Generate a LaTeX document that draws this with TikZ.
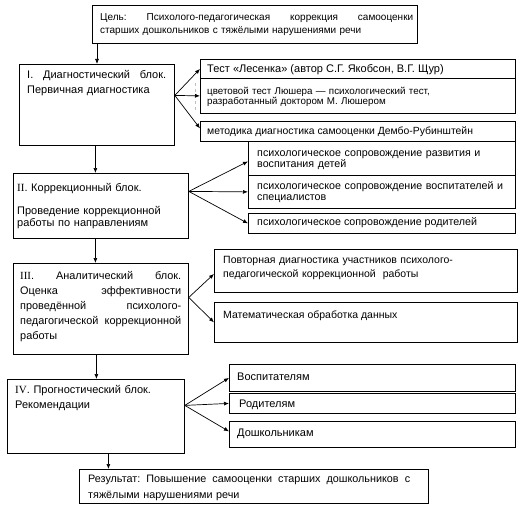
\documentclass[tikz,border=0pt]{standalone}
\usepackage{fontspec}
\setmainfont{Liberation Sans}
\newfontfamily\tnr{Liberation Serif}
\usetikzlibrary{arrows.meta}
\newcommand\jline[2]{\leavevmode\hbox to #1{#2}}
\begin{document}
\begin{tikzpicture}[x=1pt,y=-1pt,
  box/.style={draw, line width=0.8pt, inner sep=0pt, anchor=north west},
  txt/.style={inner sep=0pt, anchor=base west, align=left},
  arr/.style={line width=0.7pt, -{Latex[length=5pt,width=4pt]}},
  fa/.style={font=\fontsize{10}{13}\selectfont},
  fb/.style={font=\fontsize{11}{15}\selectfont},
  fc/.style={font=\fontsize{9.8}{10.5}\selectfont},
  fd/.style={font=\fontsize{10.4}{12}\selectfont},
  fk/.style={font=\fontsize{11}{12}\selectfont},
  fe/.style={font=\fontsize{10.7}{11}\selectfont},
  ff/.style={font=\fontsize{10.9}{15}\selectfont},
  fg/.style={font=\fontsize{10.5}{13.5}\selectfont},
  fh/.style={font=\fontsize{11}{15.5}\selectfont},
  fi/.style={font=\fontsize{10.8}{16}\selectfont}
]
\useasboundingbox[fill=white] (0,0) rectangle (520,511);

% boxes
\node[box, minimum width=325pt, minimum height=38pt] (goal) at (92,5) {};
\node[box, minimum width=155pt, minimum height=81pt] (b1) at (19,64) {};
\node[box, minimum width=315pt, minimum height=19pt] (t1) at (200,59) {};
\node[box, minimum width=315pt, minimum height=35pt] (t2) at (200,78) {};
\node[box, minimum width=315pt, minimum height=20pt] (t3) at (200,121) {};
\node[box, minimum width=175pt, minimum height=65pt] (b2) at (13,173) {};
\node[box, minimum width=267pt, minimum height=34pt] (c1) at (248,141) {};
\node[box, minimum width=267pt, minimum height=33pt] (c2) at (248,175) {};
\node[box, minimum width=267pt, minimum height=20pt] (c3) at (248,213) {};
\node[box, minimum width=175pt, minimum height=91pt] (b3) at (13,263) {};
\node[box, minimum width=303pt, minimum height=43pt] (a1) at (214,249) {};
\node[box, minimum width=303pt, minimum height=40pt] (a2) at (214,302) {};
\node[box, minimum width=177pt, minimum height=74pt] (b4) at (7,379) {};
\node[box, minimum width=286pt, minimum height=27pt] (r1) at (229,364) {};
\node[box, minimum width=286pt, minimum height=20pt] (r2) at (229,393) {};
\node[box, minimum width=286pt, minimum height=26pt] (r3) at (229,421) {};
\node[box, minimum width=349pt, minimum height=34pt] (res) at (79,469) {};

% texts
\node[txt, fa, text width=315pt] (goalt) at (100,20.5)
  {\jline{313pt}{Цель:\hfill Психолого-педагогическая\hfill коррекция\hfill самооценки}\\старших дошкольников с тяжёлыми нарушениями речи};
\node[txt, fb, text width=150pt] (b1t) at (27,79)
  {\jline{139pt}{I.\hfill Диагностический\hfill блок.}\\Первичная диагностика};
\node[txt, fb] (t1t) at (207,72.5) {Тест «Лесенка» (автор С.Г. Якобсон, В.Г. Щур)};
\node[txt, fc, text width=300pt] (t2t) at (207,94.5)
  {цветовой тест Люшера — психологический тест,\\разработанный доктором М. Люшером};
\node[txt, fd] (t3t) at (207,134.5) {методика диагностика самооценки Дембо-Рубинштейн};
\node[txt, fk, text width=168pt] (b2t) at (17,191)
  {{\tnr II}. Коррекционный блок.\\[11pt]Проведение коррекционной\\работы по направлениям};
\node[txt, fe, text width=262pt] (c1t) at (257,156)
  {психологическое сопровождение развития и\\воспитания детей};
\node[txt, fe, text width=262pt] (c2t) at (257,189)
  {психологическое сопровождение воспитателей и\\специалистов};
\node[txt, fe] (c3t) at (257,225) {психологическое сопровождение родителей};
\node[txt, ff, text width=165pt] (b3t) at (20,279)
  {\jline{161pt}{{\tnr III}.\hfill Аналитический\hfill блок.}\\
   \jline{161pt}{Оценка\hfill эффективности}\\
   \jline{161pt}{проведённой\hfill психолого-}\\
   \jline{161pt}{педагогической\hfill коррекционной}\\
   работы};
\node[txt, fg, text width=295pt] (a1t) at (223,263.5)
  {Повторная диагностика участников психолого-\\педагогической коррекционной\ \ работы};
\node[txt, fg] (a2t) at (223,318) {Математическая обработка данных};
\node[txt, fh, text width=168pt] (b4t) at (15,393)
  {{\tnr IV}. Прогностический блок.\\Рекомендации};
\node[txt, fk] (r1t) at (237,380) {Воспитателям};
\node[txt, fk] (r2t) at (239,407) {Родителям};
\node[txt, fk] (r3t) at (237,436) {Дошкольникам};
\node[txt, fi, text width=330pt] (rest) at (88,482)
  {\jline{322pt}{Результат:\hfill Повышение\hfill самооценки\hfill старших\hfill дошкольников\hfill с}\\тяжёлыми нарушениями речи};

% dashed artefact
\draw[gray!50, dashed, line width=0.4pt] (195,83) -- (195,110);

% vertical arrows
\coordinate (v1) at ([xshift=5pt]goal.south west);
\coordinate (v2) at ([xshift=-1.5pt]b1.south);
\coordinate (v3) at ([xshift=-5.5pt]b2.south);
\coordinate (v4) at ([xshift=-4.5pt]b3.south);
\coordinate (v5) at ([xshift=12.5pt]b4.south);
\draw[arr] (v1) -- (v1 |- b1.north);
\draw[arr] (v2) -- (v2 |- b2.north);
\draw[arr] (v3) -- (v3 |- b3.north);
\draw[arr] (v4) -- (v4 |- b4.north);
\draw[arr] (v5) -- (v5 |- res.north);

% branch arrows
\coordinate (o1) at ([yshift=9.5pt]b1.east);
\draw[arr] (o1) -- (t1.west);
\draw[arr] (o1) -- (t2.west);
\draw[arr] (o1) -- ([yshift=3pt]t3.west);
\coordinate (o2) at ([yshift=14.5pt]b2.east);
\draw[arr] (o2) -- ([yshift=-3pt]c1.west);
\draw[arr] (o2) -- (c2.west);
\draw[arr] (o2) -- (c3.west);
\coordinate (o3) at ([yshift=11.5pt]b3.east);
\draw[arr] (o3) -- ([yshift=-3pt]a1.west);
\draw[arr] (o3) -- (a2.west);
\coordinate (o4) at ([yshift=11pt]b4.east);
\draw[arr] (o4) -- (r1.west);
\draw[arr] (o4) -- (r2.west);
\draw[arr] (o4) -- ([yshift=3pt]r3.west);
\end{tikzpicture}
\end{document}
